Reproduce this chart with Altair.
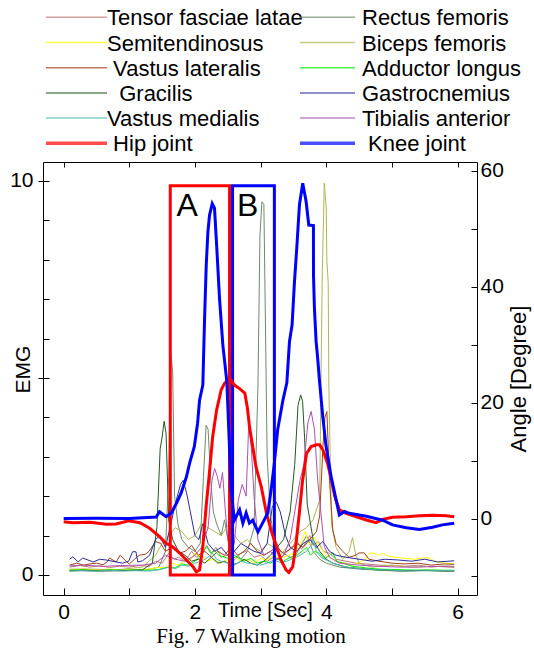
import altair as alt
import pandas as pd

# ---------------- data ----------------
X_TICKS = [0, 1, 2, 3, 4, 5, 6]
EMG_MINOR = [1, 2, 3, 4, 6, 7, 8, 9]
EMG_MAJOR = [0, 5, 10]
ANGLE_TICKS = [-10, 0, 10, 20, 30, 40, 50, 60]

MUSCLES = ["Tensor fasciae latae", "Rectus femoris", "Semitendinosus", "Biceps femoris",
           "Vastus lateralis", "Adductor longus", "Gracilis", "Gastrocnemius",
           "Vastus medialis", "Tibialis anterior"]
JOINTS = ["Hip joint", "Knee joint"]
COLORS = ["#c07878", "#6b8b6b", "#ffff00", "#b4b450", "#a0401c", "#00ee00",
          "#1f5a1f", "#2a2a9a", "#50b8b8", "#b050b0", "#ff0000", "#0000ff"]

LEGEND_LEFT_KEYS = ["Tensor fasciae latae", "Semitendinosus", "Vastus lateralis",
                    "Gracilis", "Vastus medialis", "Hip joint"]
LEGEND_LEFT_TEXT = ["Tensor fasciae latae", "Semitendinosus", "\u00a0Vastus lateralis",
                    "\u00a0\u00a0Gracilis", "Vastus medialis", "\u00a0Hip joint"]
LEGEND_RIGHT_KEYS = ["Rectus femoris", "Biceps femoris", "Adductor longus",
                     "Gastrocnemius", "Tibialis anterior", "Knee joint"]
LEGEND_RIGHT_TEXT = ["Rectus femoris", "Biceps femoris", "Adductor longus",
                     "Gastrocnemius", "Tibialis anterior", "\u00a0Knee joint"]

# (time [s], EMG)
TENSOR = [(0.09,0.2),(0.25,0.24),(0.4,0.2),(0.55,0.23),(0.7,0.19),(0.85,0.22),(1.0,0.2),(1.15,0.24),
          (1.3,0.22),(1.4,0.35),(1.5,0.3),(1.6,0.55),(1.68,0.4),(1.75,0.45),(1.85,0.35),(1.95,0.6),
          (2.02,0.45),(2.1,0.5),(2.18,0.75),(2.25,0.55),(2.32,0.7),(2.4,0.45),(2.5,0.5),(2.6,0.38),
          (2.7,0.55),(2.8,0.62),(2.9,0.45),(3.0,0.5),(3.1,0.35),(3.2,0.45),(3.3,0.4),(3.4,0.6),
          (3.5,0.75),(3.55,0.9),(3.62,0.65),(3.7,0.85),(3.75,1.0),(3.8,0.75),(3.88,0.85),(3.95,0.6),
          (4.05,0.55),(4.15,0.4),(4.3,0.35),(4.45,0.3),(4.6,0.28),(4.8,0.25),(5.0,0.24),(5.2,0.22),
          (5.4,0.25),(5.6,0.2),(5.8,0.23),(5.95,0.22)]
RECTUS = [(0.09,0.12),(0.4,0.1),(0.8,0.12),(1.2,0.11),(1.45,0.2),(1.55,0.6),(1.6,2.5),(1.63,5.6),
          (1.66,5.2),(1.69,2.0),(1.74,1.3),(1.8,0.9),(1.9,0.7),(2.0,0.6),(2.08,0.8),(2.13,2.5),
          (2.17,3.8),(2.2,3.7),(2.24,2.4),(2.28,1.6),(2.33,1.3),(2.4,1.0),(2.45,1.4),(2.5,0.9),
          (2.55,0.6),(2.6,0.5),(2.7,0.4),(2.8,0.6),(2.9,1.2),(2.96,4.8),(2.99,8.6),(3.02,9.47),
          (3.05,9.4),(3.08,5.6),(3.1,3.0),(3.15,1.5),(3.2,1.0),(3.3,0.6),(3.4,0.5),(3.5,0.4),
          (3.6,0.7),(3.7,1.0),(3.8,0.6),(3.9,0.4),(4.0,0.3),(4.2,0.2),(4.5,0.15),(4.8,0.12),
          (5.1,0.1),(5.4,0.12),(5.7,0.1),(5.95,0.1)]
SEMITEN = [(0.09,0.13),(0.3,0.15),(0.5,0.13),(0.7,0.15),(0.9,0.12),(1.1,0.14),(1.3,0.15),(1.45,0.2),
           (1.55,0.18),(1.65,0.3),(1.75,0.25),(1.85,0.4),(1.92,0.35),(2.0,0.56),(2.05,0.48),
           (2.1,0.52),(2.18,0.35),(2.28,0.4),(2.38,0.3),(2.5,0.38),(2.6,0.45),(2.7,0.35),(2.8,0.4),
           (2.9,0.3),(3.0,0.42),(3.1,0.38),(3.2,0.5),(3.3,0.42),(3.4,0.48),(3.5,0.55),(3.6,0.75),
           (3.65,1.0),(3.68,1.1),(3.72,0.85),(3.77,0.75),(3.82,0.96),(3.87,0.8),(3.93,0.65),
           (4.0,0.5),(4.1,0.4),(4.2,0.32),(4.3,0.3),(4.4,0.25),(4.5,0.32),(4.6,0.4),(4.65,0.55),
           (4.72,0.56),(4.8,0.5),(4.86,0.55),(4.95,0.48),(5.05,0.45),(5.2,0.42),(5.35,0.4),
           (5.45,0.43),(5.55,0.44),(5.65,0.35),(5.8,0.3),(5.95,0.28)]
BICEPS = [(0.09,0.15),(0.4,0.15),(0.8,0.13),(1.2,0.2),(1.4,0.5),(1.5,0.8),(1.6,1.0),(1.7,1.2),
          (1.8,1.1),(1.9,0.9),(2.0,1.0),(2.1,1.3),(2.2,1.2),(2.3,1.1),(2.4,1.0),(2.5,1.25),
          (2.6,1.0),(2.7,0.8),(2.8,0.9),(2.9,0.7),(3.0,0.6),(3.1,0.8),(3.2,0.7),(3.3,0.5),
          (3.4,0.7),(3.5,0.9),(3.6,1.1),(3.7,1.2),(3.8,1.4),(3.9,1.9),(3.92,4.9),(3.94,7.7),
          (3.96,9.14),(3.97,9.94),(4.0,9.3),(4.01,7.95),(4.03,7.44),(4.04,4.8),(4.08,1.3),
          (4.15,0.7),(4.25,0.4),(4.35,0.6),(4.4,0.95),(4.45,0.5),(4.5,0.3),(4.7,0.2),(5.0,0.25),
          (5.3,0.2),(5.6,0.22),(5.95,0.2)]
VLAT = [(0.09,0.25),(0.2,0.3),(0.3,0.25),(0.4,0.28),(0.5,0.3),(0.6,0.26),(0.66,0.33),(0.7,0.43),
        (0.8,0.33),(0.86,0.5),(0.95,0.35),(1.0,0.28),(1.08,0.4),(1.15,0.5),(1.25,0.53),(1.3,0.6),
        (1.4,0.85),(1.48,0.8),(1.55,0.6),(1.65,0.7),(1.75,0.55),(1.85,0.6),(1.95,0.75),(2.05,0.5),
        (2.15,0.6),(2.25,0.45),(2.35,0.6),(2.45,0.5),(2.55,0.7),(2.65,0.5),(2.75,0.6),(2.85,0.8),
        (2.95,0.6),(3.05,0.5),(3.15,0.6),(3.25,0.7),(3.35,0.55),(3.45,0.65),(3.55,0.8),(3.65,0.7),
        (3.75,0.9),(3.85,1.1),(3.9,1.5),(3.95,3.26),(3.98,4.0),(4.01,4.15),(4.05,2.4),(4.1,1.14),
        (4.15,0.8),(4.25,0.6),(4.35,0.45),(4.45,0.5),(4.5,0.56),(4.58,0.56),(4.65,0.4),(4.8,0.35),
        (5.0,0.3),(5.2,0.28),(5.4,0.3),(5.6,0.25),(5.8,0.28),(5.95,0.27)]
ADDUCT = [(0.09,0.12),(0.3,0.13),(0.5,0.11),(0.7,0.13),(0.9,0.12),(1.1,0.13),(1.3,0.12),(1.45,0.14),
          (1.6,0.2),(1.7,0.18),(1.8,0.28),(1.9,0.25),(2.0,0.35),(2.07,0.45),(2.12,0.6),(2.18,0.72),
          (2.24,0.55),(2.3,0.62),(2.36,0.5),(2.45,0.45),(2.55,0.4),(2.65,0.48),(2.75,0.35),
          (2.85,0.42),(2.95,0.3),(3.05,0.35),(3.15,0.3),(3.25,0.4),(3.35,0.35),(3.45,0.45),
          (3.55,0.5),(3.63,0.6),(3.7,0.7),(3.76,0.5),(3.82,0.6),(3.9,0.55),(3.97,0.4),(4.05,0.5),
          (4.1,0.56),(4.16,0.35),(4.25,0.3),(4.4,0.22),(4.6,0.18),(4.8,0.15),(5.0,0.14),(5.2,0.13),
          (5.4,0.12),(5.6,0.13),(5.8,0.12),(5.95,0.12)]
GRACILIS = [(0.09,0.1),(0.3,0.12),(0.6,0.1),(0.9,0.11),(1.2,0.13),(1.35,0.3),(1.42,1.2),(1.47,3.2),
            (1.5,3.5),(1.53,3.9),(1.56,3.6),(1.6,1.4),(1.66,0.9),(1.75,0.6),(1.85,0.5),(1.95,0.35),
            (2.05,0.4),(2.15,0.3),(2.25,0.45),(2.35,0.3),(2.45,0.35),(2.55,0.25),(2.65,0.3),
            (2.75,0.4),(2.85,0.3),(2.95,0.25),(3.05,0.35),(3.15,0.5),(3.25,0.7),(3.35,0.9),
            (3.45,1.6),(3.52,2.8),(3.57,4.3),(3.61,4.57),(3.64,4.4),(3.67,3.5),(3.71,1.8),
            (3.75,1.4),(3.8,0.9),(3.9,0.6),(4.0,0.4),(4.1,0.3),(4.3,0.2),(4.6,0.15),(4.9,0.12),
            (5.2,0.1),(5.5,0.12),(5.8,0.1),(5.95,0.1)]
GASTRO = [(0.09,0.4),(0.14,0.46),(0.22,0.33),(0.29,0.43),(0.37,0.38),(0.45,0.33),(0.55,0.4),
          (0.65,0.38),(0.8,0.33),(0.9,0.3),(0.99,0.35),(1.05,0.59),(1.1,0.59),(1.13,0.33),
          (1.2,0.36),(1.31,0.5),(1.4,0.9),(1.47,1.0),(1.55,0.7),(1.62,1.2),(1.7,1.8),(1.78,2.3),
          (1.82,2.4),(1.87,2.1),(1.93,1.6),(2.0,1.0),(2.06,0.9),(2.12,1.3),(2.2,0.8),(2.3,0.6),
          (2.4,0.7),(2.5,0.5),(2.6,0.6),(2.7,0.8),(2.8,0.7),(2.9,0.6),(3.0,0.55),(3.1,0.8),
          (3.18,1.75),(3.24,1.85),(3.3,1.6),(3.38,1.0),(3.45,0.7),(3.55,0.6),(3.65,0.8),
          (3.75,0.9),(3.85,0.7),(3.95,0.85),(4.05,0.6),(4.15,0.5),(4.3,0.45),(4.5,0.4),
          (4.7,0.35),(4.9,0.4),(5.1,0.38),(5.3,0.35),(5.5,0.4),(5.7,0.33),(5.95,0.36)]
VMED = [(0.09,0.1),(0.3,0.11),(0.5,0.1),(0.7,0.12),(0.9,0.1),(1.1,0.11),(1.3,0.1),(1.45,0.13),
        (1.6,0.2),(1.7,0.16),(1.8,0.25),(1.9,0.22),(2.0,0.3),(2.1,0.35),(2.2,0.45),(2.27,0.55),
        (2.33,0.4),(2.4,0.35),(2.5,0.3),(2.6,0.25),(2.7,0.35),(2.8,0.3),(2.9,0.28),(3.0,0.25),
        (3.1,0.3),(3.2,0.38),(3.3,0.32),(3.4,0.35),(3.5,0.42),(3.6,0.5),(3.7,0.6),(3.77,0.75),
        (3.8,0.9),(3.85,0.6),(3.92,0.45),(4.0,0.38),(4.1,0.3),(4.25,0.22),(4.4,0.18),(4.6,0.15),
        (4.8,0.13),(5.0,0.12),(5.3,0.1),(5.6,0.11),(5.95,0.11)]
TIBIAL = [(0.09,0.23),(0.3,0.25),(0.6,0.22),(0.9,0.24),(1.2,0.25),(1.4,0.3),(1.55,0.5),(1.7,0.4),
          (1.85,0.35),(2.0,0.5),(2.1,0.7),(2.2,1.2),(2.26,2.4),(2.3,2.7),(2.34,2.5),(2.38,2.2),
          (2.42,2.6),(2.46,1.7),(2.5,0.9),(2.55,0.6),(2.6,0.8),(2.66,1.9),(2.72,2.3),(2.78,2.0),
          (2.82,3.86),(2.86,3.2),(2.9,2.0),(2.96,0.9),(3.05,0.5),(3.15,0.6),(3.25,0.4),(3.35,0.5),
          (3.45,0.9),(3.52,1.6),(3.6,2.4),(3.66,2.8),(3.72,3.86),(3.77,4.15),(3.82,3.7),(3.87,2.4),
          (3.92,1.57),(3.97,0.72),(4.05,0.45),(4.2,0.3),(4.5,0.25),(4.8,0.22),(5.1,0.2),(5.4,0.2),
          (5.7,0.22),(5.95,0.2)]

# (time [s], angle [deg])
HIP = [(0.0,-0.55),(0.14,-0.72),(0.40,-0.66),(0.65,-1.0),(0.80,-0.95),(0.99,-0.38),(1.16,-0.72),
       (1.31,-1.69),(1.46,-3.14),(1.56,-4.28),(1.66,-4.86),(1.77,-6.0),(1.87,-7.16),(1.97,-8.3),
       (2.02,-9.17),(2.07,-8.88),(2.12,-4.86),(2.17,2.03),(2.22,7.8),(2.27,14.1),(2.33,18.7),
       (2.40,22.2),(2.45,23.3),(2.53,24.2),(2.60,23.0),(2.68,22.4),(2.76,21.6),(2.80,19.0),
       (2.83,15.9),(2.88,12.4),(2.93,8.9),(3.01,5.5),(3.09,0.9),(3.16,-2.0),(3.24,-4.86),
       (3.31,-7.16),(3.39,-8.9),(3.43,-9.3),(3.49,-8.3),(3.54,-4.3),(3.59,0.9),(3.64,6.6),
       (3.70,11.2),(3.77,12.4),(3.85,12.7),(3.90,12.7),(3.95,11.8),(4.02,9.5),(4.08,6.6),
       (4.13,3.8),(4.20,1.5),(4.30,0.9),(4.46,0.3),(4.61,-0.26),(4.76,-0.72),(4.86,-0.14),
       (5.01,0.2),(5.22,0.3),(5.42,0.48),(5.62,0.55),(5.83,0.48),(5.95,0.3)]
KNEE = [(0.0,0.0),(0.5,0.05),(1.0,0.0),(1.41,0.26),(1.46,1.17),(1.56,0.31),(1.64,0.95),(1.72,2.67),
        (1.79,4.4),(1.87,7.2),(1.92,9.6),(1.99,12.4),(2.04,16.4),(2.07,20.4),(2.12,23.0),
        (2.146,34.2),(2.172,43.7),(2.197,49.4),(2.222,52.3),(2.263,54.3),(2.298,53.5),
        (2.333,46.6),(2.374,38.0),(2.425,29.9),(2.486,23.6),(2.52,14.0),(2.55,5.0),(2.60,-0.3),
        (2.68,1.5),(2.73,-0.8),(2.78,0.95),(2.83,-0.8),(2.88,-0.3),(2.96,-2.3),(3.03,-0.8),
        (3.11,0.95),(3.16,4.9),(3.21,9.6),(3.26,15.3),(3.34,20.4),(3.40,23.4),(3.44,30.5),
        (3.48,33.4),(3.516,40.8),(3.551,46.6),(3.592,54.1),(3.642,57.8),(3.694,54.6),
        (3.734,50.6),(3.805,50.5),(3.806,42.0),(3.82,36.3),(3.846,30.5),(3.87,27.6),(3.896,23.9),
        (3.947,17.6),(3.998,12.4),(4.075,7.2),(4.151,3.2),(4.20,0.6),(4.28,1.2),(4.35,0.9),
        (4.61,0.4),(4.86,-0.3),(5.01,-1.1),(5.22,-1.6),(5.42,-1.9),(5.62,-1.5),(5.77,-1.1),
        (5.95,-0.8)]

BOX_NAMES = ["A", "B"]
BOX_T0 = [1.624, 2.573]
BOX_T1 = [2.527, 3.21]
BOX_TOP = [9.88, 9.88]
BOX_BOTTOM = [0.0, 0.0]
LETTER_T = [1.72, 2.64]
LETTER_V = [9.12, 9.12]

CAPTION = "Fig. 7 Walking motion"

# ---------------- tables ----------------
SERIES = [TENSOR, RECTUS, SEMITEN, BICEPS, VLAT, ADDUCT, GRACILIS, GASTRO, VMED, TIBIAL]
emg_df = pd.DataFrame([
    {"muscle": m, "t": t, "v": v} for m, s in zip(MUSCLES, SERIES) for t, v in s
])
joint_df = pd.DataFrame([
    {"joint": j, "t": t, "a": a} for j, s in zip(JOINTS, [HIP, KNEE]) for t, a in s
])
box_df = pd.DataFrame({"name": BOX_NAMES, "t0": BOX_T0, "t1": BOX_T1,
                       "v0": BOX_BOTTOM, "v1": BOX_TOP})
letter_df = pd.DataFrame({"name": BOX_NAMES, "t": LETTER_T, "v": LETTER_V})
emg_major_df = pd.DataFrame({"v": EMG_MAJOR})


def legend_rows(keys, texts, col):
    rows = []
    for i, (k, s) in enumerate(zip(keys, texts)):
        stripped = s.lstrip("\u00a0")
        rows.append({"key": k, "label": stripped, "indent": len(s) - len(stripped),
                     "row": i, "col": col})
    return rows


leg_df = pd.DataFrame(legend_rows(LEGEND_LEFT_KEYS, LEGEND_LEFT_TEXT, 0)
                      + legend_rows(LEGEND_RIGHT_KEYS, LEGEND_RIGHT_TEXT, 1))
leg_m = leg_df[~leg_df["key"].isin(JOINTS)]
leg_j = leg_df[leg_df["key"].isin(JOINTS)]

# ---------------- chart ----------------
SANS = "Liberation Sans, Arial, sans-serif"
SERIF = "Liberation Serif, Times New Roman, serif"
W, H = 434, 433
LEG_FONT = 22
SPACE_W = 6.1  # width of one space at the legend font size

XS = alt.Scale(domain=[-0.315, 6.297], nice=False, zero=False)
ES = alt.Scale(domain=[-0.508, 10.48], nice=False, zero=False)
AS = alt.Scale(domain=[-13.19, 61.47], nice=False, zero=False)
CS = alt.Scale(domain=MUSCLES + JOINTS, range=COLORS)
ROW_S = alt.Scale(type="point", domain=list(range(6)), range=[-144.7, -18.7], padding=0)
TXT_COL_S = alt.Scale(type="point", domain=[0, 1], range=[64, 319], padding=0)
SYM_COL_S = alt.Scale(type="point", domain=[0, 1], range=[33.5, 284.5], padding=0)
SYM_LEN_S = alt.Scale(domain=[0, 1], range=[61, 55])

emg = alt.Chart(emg_df).mark_line(strokeWidth=1).encode(
    x=alt.X("t:Q", scale=XS, axis=alt.Axis(
        orient="bottom", values=X_TICKS,
        labelExpr="datum.value % 2 == 0 ? datum.label : ''",
        offset=-7, tickSize=7, domain=False, labelPadding=6, labelFontSize=21,
        labelFlush=False, labelOverlap=False,
        title="Time [Sec]", titleFontSize=20, titleX=222, titleY=28,
        titleBaseline="alphabetic", titleAlign="center")),
    y=alt.Y("v:Q", scale=ES, axis=alt.Axis(
        orient="left", values=EMG_MINOR, labels=False, offset=-6, tickSize=6,
        domain=False, title=None)),
    color=alt.Color("muscle:N", scale=CS, legend=None),
)

emg_axis = alt.Chart(emg_major_df).mark_point(opacity=0).encode(
    y=alt.Y("v:Q", scale=ES, axis=alt.Axis(
        orient="left", values=EMG_MAJOR,
        labelExpr="datum.value == 5 ? '' : datum.label",
        offset=-6, tickSize=11, domain=False, labelPadding=5, labelFontSize=21,
        labelOverlap=False, labelFlush=False,
        title="EMG", titleFontSize=21, titleAngle=270, titleX=-26, titleY=207,
        titleBaseline="middle", titleAlign="center")),
)

boxes = alt.Chart(box_df).mark_rect(fillOpacity=0, strokeWidth=3).encode(
    x=alt.X("t0:Q", scale=XS, axis=None), x2="t1:Q",
    y=alt.Y("v0:Q", scale=ES, axis=None), y2="v1:Q",
    stroke=alt.Stroke("name:N", scale=alt.Scale(domain=BOX_NAMES, range=["#ff0000", "#0000ff"]),
                      legend=None),
)

joints = alt.Chart(joint_df).mark_line(strokeWidth=3).encode(
    x=alt.X("t:Q", scale=XS, axis=alt.Axis(
        orient="top", values=X_TICKS, labels=False, offset=-5, tickSize=5,
        domain=False, title=None)),
    y=alt.Y("a:Q", scale=AS, axis=alt.Axis(
        orient="right", values=ANGLE_TICKS,
        labelExpr="datum.value % 20 == 0 ? datum.label : ''",
        offset=-6, tickSize=6, domain=False, labelPadding=3, labelFontSize=21,
        labelOverlap=False, labelFlush=False,
        title="Angle [Degree]", titleFontSize=22, titleAngle=270, titleX=47,
        titleY=H / 2, titleBaseline="middle", titleAlign="center")),
    color=alt.Color("joint:N", scale=CS, legend=None),
)

letters = alt.Chart(letter_df).mark_text(
    align="left", baseline="alphabetic", fontSize=32, font=SANS, color="black"
).encode(
    x=alt.X("t:Q", scale=XS, axis=None),
    y=alt.Y("v:Q", scale=ES, axis=None),
    text="name:N",
)


def legend_text(indent):
    return alt.Chart(leg_df[leg_df["indent"] == indent]).mark_text(
        align="left", baseline="middle", fontSize=LEG_FONT, font=SANS, color="black",
        dy=1, dx=indent * SPACE_W
    ).encode(
        x=alt.X("col:O", scale=TXT_COL_S, axis=None),
        y=alt.Y("row:O", scale=ROW_S, axis=None),
        text="label:N",
    )


def legend_symbols(df, thickness):
    return alt.Chart(df).mark_tick(orient="horizontal", thickness=thickness).encode(
        x=alt.X("col:O", scale=SYM_COL_S, axis=None),
        y=alt.Y("row:O", scale=ROW_S, axis=None),
        size=alt.Size("col:Q", scale=SYM_LEN_S, legend=None),
        color=alt.Color("key:N", scale=CS, legend=None),
    )


chart = alt.layer(
    emg, emg_axis, boxes, joints, letters,
    legend_text(0), legend_text(1), legend_text(2),
    legend_symbols(leg_m, 1.5), legend_symbols(leg_j, 3.5)
).resolve_scale(
    x="independent", y="independent", size="independent"
).properties(
    width=W, height=H,
    padding={"left": 43, "top": 162, "right": 57, "bottom": 53},
    autosize=alt.AutoSizeParams(type="none"),
    title=alt.TitleParams(CAPTION, orient="bottom", frame="group", anchor="middle",
                          offset=4, dx=-9, font=SERIF, fontSize=21,
                          fontWeight="normal", color="black"),
).configure_view(
    stroke="black", strokeWidth=1
).configure_axis(
    grid=False, labelFont=SANS, titleFont=SANS, labelColor="black", titleColor="black",
    tickColor="black", tickWidth=1, titleFontWeight="normal"
)

chart.save("out.html", embed_options={"renderer": "svg", "actions": False})
